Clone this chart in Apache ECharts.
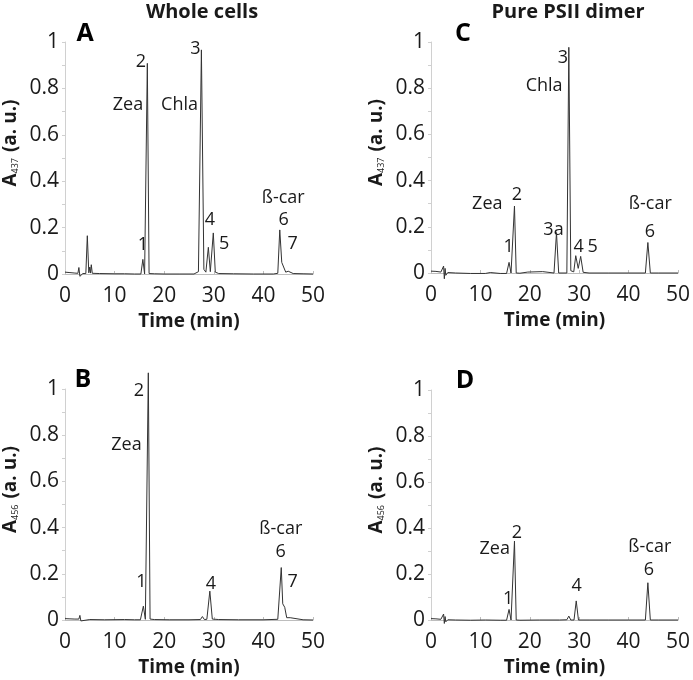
<!DOCTYPE html>
<html>
<head>
<meta charset="utf-8">
<script src="https://cdn.jsdelivr.net/npm/echarts@6/dist/echarts.min.js"></script>
<style>html,body{margin:0;padding:0;background:#fff}#c{width:693px;height:680px}</style>
</head>
<body>
<div id="c"></div>
<script>
// ---------- DATA ----------
var xTicks = [0, 10, 20, 30, 40, 50];
var yTicks = [0, 0.2, 0.4, 0.6, 0.8, 1];

// Panel A: whole cells, A437
var aTime = [0, 1, 2, 2.6, 2.8, 3.0, 3.3, 3.6, 4.2, 4.5, 4.8, 5.0, 5.15, 5.3, 5.5, 7, 10, 12, 14, 15.3, 15.7, 16.05, 16.3, 16.6, 16.95, 18, 20, 23, 26, 26.9, 27.5, 28.0, 28.4, 28.9, 29.3, 29.9, 30.3, 31, 34, 38, 42, 42.9, 43.3, 43.7, 44.0, 44.5, 45.0, 45.4, 46, 48, 50];
var aAbs  = [0.008, 0.006, 0.004, 0.003, 0.028, -0.01, -0.003, 0.002, 0.002, 0.165, 0.005, 0.03, 0.004, 0.04, 0.003, 0.002, 0.001, 0.001, 0.0, 0.0, 0.063, 0.0, 0.0, 0.908, 0.002, 0.001, 0.0, 0.0, 0.0, 0.01, 0.966, 0.02, 0.008, 0.115, 0.01, 0.177, 0.008, 0.002, 0.001, 0.0, 0.0, 0.003, 0.19, 0.05, 0.045, 0.008, 0.012, 0.004, 0.002, 0.001, 0.0];
var aLabels = ['1', '2', 'Zea', 'Chla', '3', '4', '5', 'ß-car', '6', '7'];
var aLabT   = [15.7, 15.3, 12.7, 23.1, 26.3, 29.2, 32.1, 44.0, 44.1, 45.9];
var aLabV   = [0.125, 0.915, 0.73, 0.73, 0.97, 0.233, 0.128, 0.326, 0.233, 0.128];

// Panel B: whole cells, A456
var bTime = [0, 1, 2, 2.8, 3.0, 3.2, 3.6, 5, 8, 12, 14, 15.2, 15.8, 16.2, 16.45, 16.8, 17.15, 18, 21, 25, 27.3, 27.7, 28.1, 28.6, 29.2, 29.7, 31, 35, 40, 42.9, 43.6, 43.9, 44.3, 44.7, 45.1, 45.4, 45.8, 48, 50];
var bAbs  = [0.006, 0.005, 0.004, 0.004, 0.02, -0.004, 0.002, 0.002, 0.001, 0.002, 0.001, 0.001, 0.06, 0.003, 0.003, 1.07, 0.004, 0.002, 0.001, 0.001, 0.002, 0.015, 0.002, 0.003, 0.125, 0.004, 0.002, 0.001, 0.001, 0.003, 0.227, 0.07, 0.055, 0.01, 0.004, 0.01, 0.002, 0.001, 0.0];
var bLabels = ['2', 'Zea', '1', '4', 'ß-car', '6', '7'];
var bLabT   = [14.9, 12.4, 15.4, 29.4, 43.5, 43.5, 45.9];
var bLabV   = [0.99, 0.76, 0.163, 0.156, 0.393, 0.296, 0.163];

// Panel C: pure PSII dimer, A437
var cTime = [0, 1, 2, 2.4, 2.55, 2.7, 2.85, 3.0, 3.4, 5, 8, 11, 12, 14, 15.3, 15.8, 16.2, 16.55, 16.9, 17.25, 18, 19.6, 20, 22.6, 23, 24.9, 25.4, 25.85, 27.5, 27.9, 28.3, 28.9, 29.3, 29.8, 30.3, 30.8, 32, 36, 40, 43.4, 43.9, 44.4, 46, 50];
var cAbs  = [0.008, 0.007, 0.004, 0.003, 0.03, -0.025, 0.02, -0.01, 0.002, 0.0, -0.002, -0.002, 0.002, -0.002, -0.002, 0.046, 0.0, 0.0, 0.29, 0.0, -0.001, 0.004, -0.001, 0.006, 0.0, 0.0, 0.175, 0.0, 0.0, 0.977, 0.01, 0.005, 0.075, 0.02, 0.072, 0.003, 0.0, 0.0, 0.0, 0.0, 0.132, 0.0, 0.0, 0.0];
var cLabels = ['Zea', '2', '1', '3a', '3', 'Chla', '4', '5', 'ß-car', '6'];
var cLabT   = [11.4, 17.4, 15.7, 24.8, 26.7, 22.9, 29.9, 32.7, 44.4, 44.3];
var cLabV   = [0.30, 0.34, 0.115, 0.186, 0.93, 0.81, 0.115, 0.115, 0.30, 0.18];

// Panel D: pure PSII dimer, A456
var dTime = [0, 1, 2, 2.4, 2.55, 2.7, 2.85, 3.0, 3.4, 5, 8, 11, 14, 15.3, 15.8, 16.2, 16.55, 16.9, 17.25, 18, 22, 26, 27.5, 27.9, 28.3, 28.95, 29.4, 29.85, 32, 36, 40, 43.4, 43.9, 44.4, 46, 50];
var dAbs  = [0.006, 0.005, 0.003, 0.002, 0.026, -0.015, 0.015, -0.008, 0.001, 0.0, -0.001, 0.0, -0.001, -0.001, 0.046, 0.0, 0.0, 0.343, 0.0, -0.001, 0.0, 0.0, 0.001, 0.017, 0.0, 0.0, 0.083, 0.0, 0.0, 0.0, 0.0, 0.0, 0.162, 0.0, 0.0, 0.0];
var dLabels = ['Zea', '2', '1', '4', 'ß-car', '6'];
var dLabT   = [12.9, 17.4, 15.6, 29.5, 44.3, 44.1];
var dLabV   = [0.31, 0.38, 0.094, 0.15, 0.32, 0.22];

var panelTitles = ['Whole cells', 'Pure PSII dimer'];
var panelLetters = ['A', 'B', 'C', 'D'];
var yNames = ['A{s|437} (a. u.)', 'A{s|456} (a. u.)', 'A{s|437} (a. u.)', 'A{s|456} (a. u.)'];
var xName = 'Time (min)';

// ---------- CHART ----------
var FONT = '"Open Sans", "DejaVu Sans", sans-serif';
var TXT = '#1a1a1a';
var AX = '#bdbdbd';
var grids = [
  {left: 63, width: 250, top: 42, height: 232},
  {left: 63, width: 250, top: 389, height: 231},
  {left: 431, width: 248, top: 42, height: 231},
  {left: 431, width: 248, top: 390, height: 230}
];
var times = [aTime, bTime, cTime, dTime];
var abss = [aAbs, bAbs, cAbs, dAbs];
var labs = [[aLabels, aLabT, aLabV], [bLabels, bLabT, bLabV], [cLabels, cLabT, cLabV], [dLabels, dLabT, dLabV]];

function zip(t, v) { return t.map(function (x, i) { return [x, v[i]]; }); }

var xAxes = [], yAxes = [], series = [];
for (var i = 0; i < 4; i++) {
  xAxes.push({
    type: 'value', gridIndex: i, min: xTicks[0], max: xTicks[xTicks.length - 1], interval: xTicks[1] - xTicks[0],
    name: xName, nameLocation: 'middle', nameGap: 38,
    nameTextStyle: {fontFamily: FONT, fontWeight: 'bold', fontSize: 19, color: TXT},
    axisLine: {show: true, onZero: false, lineStyle: {color: AX, width: 1}},
    axisTick: {show: true, inside: true, length: 3, lineStyle: {color: AX}},
    axisLabel: {fontFamily: FONT, fontSize: 21, color: TXT, margin: 12},
    splitLine: {show: false}
  });
  yAxes.push({
    type: 'value', gridIndex: i, min: yTicks[0], max: yTicks[yTicks.length - 1], interval: yTicks[1] - yTicks[0],
    name: yNames[i], nameLocation: 'middle', nameGap: 45, nameRotate: 90,
    nameTextStyle: {fontFamily: FONT, fontWeight: 'bold', fontSize: 19, color: TXT, padding: [0, 0, 0, 30],
      rich: {s: {fontFamily: FONT, fontSize: 9, fontWeight: 'normal', color: TXT, verticalAlign: 'bottom', padding: [6, 1, 0, 0]}}},
    axisLine: {show: true, lineStyle: {color: '#d0d0d0', width: 1}},
    axisTick: {show: true, length: 3, lineStyle: {color: '#d0d0d0'}},
    minorTick: {show: true, splitNumber: 2, length: 3, lineStyle: {color: '#d0d0d0'}},
    axisLabel: {fontFamily: FONT, fontSize: 21, color: TXT, margin: 6},
    splitLine: {show: false}
  });
  series.push({
    type: 'line', xAxisIndex: i, yAxisIndex: i, data: zip(times[i], abss[i]),
    showSymbol: false, symbol: 'none', clip: false, silent: true,
    lineStyle: {color: '#333333', width: 1}, animation: false
  });
  var L = labs[i];
  series.push({
    type: 'scatter', xAxisIndex: i, yAxisIndex: i, symbolSize: 0, silent: true, clip: false, animation: false,
    itemStyle: {opacity: 1, color: 'rgba(0,0,0,0)'},
    data: L[0].map(function (n, k) { return {name: n, value: [L[1][k], L[2][k]]}; }),
    label: {show: true, position: 'inside', formatter: '{b}', fontFamily: FONT, fontSize: 18, color: TXT, opacity: 1, textBorderWidth: 0}
  });
}

var graphics = [
  {type: 'text', x: 202, y: 12, style: {text: panelTitles[0], font: 'bold 20px ' + FONT, fill: TXT, align: 'center', verticalAlign: 'middle'}},
  {type: 'text', x: 568, y: 12, style: {text: panelTitles[1], font: 'bold 20px ' + FONT, fill: TXT, align: 'center', verticalAlign: 'middle'}},
  {type: 'text', x: 85, y: 34, style: {text: panelLetters[0], font: 'bold 25px ' + FONT, fill: '#000', align: 'center', verticalAlign: 'middle'}},
  {type: 'text', x: 83, y: 380, style: {text: panelLetters[1], font: 'bold 25px ' + FONT, fill: '#000', align: 'center', verticalAlign: 'middle'}},
  {type: 'text', x: 463, y: 34, style: {text: panelLetters[2], font: 'bold 25px ' + FONT, fill: '#000', align: 'center', verticalAlign: 'middle'}},
  {type: 'text', x: 465, y: 381, style: {text: panelLetters[3], font: 'bold 25px ' + FONT, fill: '#000', align: 'center', verticalAlign: 'middle'}}
];

var chart = echarts.init(document.getElementById('c'), null, {renderer: 'canvas'});
chart.setOption({
  animation: false,
  backgroundColor: '#fff',
  grid: grids,
  xAxis: xAxes,
  yAxis: yAxes,
  series: series,
  graphic: graphics
});
</script>
</body>
</html>
